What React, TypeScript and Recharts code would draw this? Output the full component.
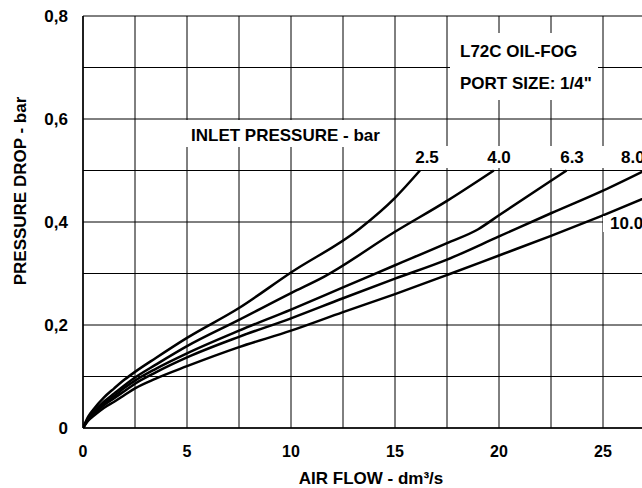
import { LineChart, Line, XAxis, YAxis, CartesianGrid } from "recharts";

const FONT = '"Liberation Sans", Arial, Helvetica, sans-serif';

// inlet pressure (bar) for each curve
const inletPressures = ["2.5", "4.0", "6.3", "8.0", "10.0"];

// air flow (dm3/s) and pressure drop (bar)
const flow25 = [0, 0.25, 0.5, 1, 1.5, 2, 2.5, 3.5, 5, 7.5, 10, 13.3, 15, 16.2];
const drop25 = [0, 0.022, 0.036, 0.059, 0.077, 0.094, 0.109, 0.136, 0.175, 0.233, 0.302, 0.387, 0.447, 0.5];

const flow40 = [0, 0.25, 0.5, 1, 1.5, 2, 2.5, 3.5, 5, 7.5, 10, 11.6, 15, 17.5, 19.75];
const drop40 = [0, 0.019, 0.031, 0.051, 0.067, 0.083, 0.098, 0.123, 0.159, 0.21, 0.262, 0.294, 0.381, 0.441, 0.5];

const flow63 = [0, 0.25, 0.5, 1, 1.5, 2, 2.5, 3.5, 5, 7.5, 10, 12.5, 15, 17.5, 19, 20, 22.5, 23.25];
const drop63 = [0, 0.017, 0.028, 0.047, 0.062, 0.078, 0.092, 0.115, 0.145, 0.189, 0.23, 0.273, 0.316, 0.359, 0.386, 0.413, 0.48, 0.5];

const flow80 = [0, 0.25, 0.5, 1, 1.5, 2, 2.5, 3.5, 5, 7.5, 10, 12.5, 15, 17.5, 20, 22.5, 25, 27];
const drop80 = [0, 0.016, 0.026, 0.044, 0.058, 0.072, 0.086, 0.108, 0.137, 0.177, 0.213, 0.252, 0.29, 0.327, 0.372, 0.417, 0.461, 0.5];

const flow100 = [0, 0.25, 0.5, 1, 1.5, 2, 2.5, 3.5, 5, 7.5, 10, 12.5, 15, 17.5, 20, 22.5, 25, 27.5];
const drop100 = [0, 0.014, 0.023, 0.039, 0.051, 0.064, 0.077, 0.096, 0.12, 0.157, 0.189, 0.225, 0.26, 0.297, 0.335, 0.373, 0.413, 0.455];

const xTicks = [0, 2.5, 5, 7.5, 10, 12.5, 15, 17.5, 20, 22.5, 25, 27.5];
const yTicks = [0, 0.1, 0.2, 0.3, 0.4, 0.5, 0.6, 0.7, 0.8];

const toPoints = (xs: number[], ys: number[]) => xs.map((x, i) => ({ x, y: ys[i] }));

const series = [
  toPoints(flow25, drop25),
  toPoints(flow40, drop40),
  toPoints(flow63, drop63),
  toPoints(flow80, drop80),
  toPoints(flow100, drop100),
];

const fmtX = (v: number) => (v % 5 === 0 ? String(v) : "");
const fmtY = (v: number) => {
  const t = Math.round(v * 10);
  if (t % 2) return "";
  return t === 0 ? "0" : v.toFixed(1).replace(".", ",");
};

const tickStyle = { fill: "#000", fontSize: 16, fontWeight: "bold", fontFamily: FONT };

export default function App() {
  return (
    <div style={{ position: "absolute", left: 0, top: 0, width: 642, height: 488, overflow: "hidden", background: "#fff" }}>
      <LineChart width={700} height={488} margin={{ top: 16, right: 45, bottom: 0, left: 23 }}>
        <CartesianGrid stroke="#000" strokeWidth={1} />
        <XAxis
          type="number"
          dataKey="x"
          domain={[0, 27.5]}
          ticks={xTicks}
          tickFormatter={fmtX}
          height={60}
          tickSize={0}
          tickMargin={18}
          axisLine={{ stroke: "#000", strokeWidth: 1.5 }}
          tick={tickStyle}
          allowDataOverflow
        />
        <YAxis
          type="number"
          dataKey="y"
          domain={[0, 0.8]}
          ticks={yTicks}
          tickFormatter={fmtY}
          width={60}
          tickSize={0}
          tickMargin={15}
          axisLine={{ stroke: "#000", strokeWidth: 1.5 }}
          tick={{ ...tickStyle, fontSize: 17 }}
          allowDataOverflow
        />
        {series.map((d, i) => (
          <Line
            key={inletPressures[i]}
            data={d}
            dataKey="y"
            name={inletPressures[i]}
            type="monotone"
            stroke="#000"
            strokeWidth={2.5}
            dot={false}
            isAnimationActive={false}
          />
        ))}
      </LineChart>
      <svg width={642} height={488} style={{ position: "absolute", left: 0, top: 0, pointerEvents: "none" }}>
        <g fill="#fff">
          <rect x={185} y={120} width={204} height={27} />
          <rect x={398} y={146} width={250} height={22} />
          <rect x={450} y={33} width={148} height={67} />
          <rect x={603} y={216} width={45} height={16} />
        </g>
        <g fontFamily={FONT} fontWeight="bold" fontSize={17} fill="#000">
          <text x={460} y={57}>L72C OIL-FOG</text>
          <text x={460} y={89}>PORT SIZE: 1/4"</text>
          <text x={191} y={141}>INLET PRESSURE - bar</text>
          <text x={427} y={163} textAnchor="middle">{inletPressures[0]}</text>
          <text x={499} y={163} textAnchor="middle">{inletPressures[1]}</text>
          <text x={572} y={163} textAnchor="middle">{inletPressures[2]}</text>
          <text x={621} y={163}>{inletPressures[3]}</text>
          <text x={610} y={229}>{inletPressures[4]}</text>
          <text x={371} y={484} textAnchor="middle">AIR FLOW - dm³/s</text>
          <text transform="translate(25.6,191) rotate(-90)" textAnchor="middle">PRESSURE DROP - bar</text>
        </g>
      </svg>
    </div>
  );
}
